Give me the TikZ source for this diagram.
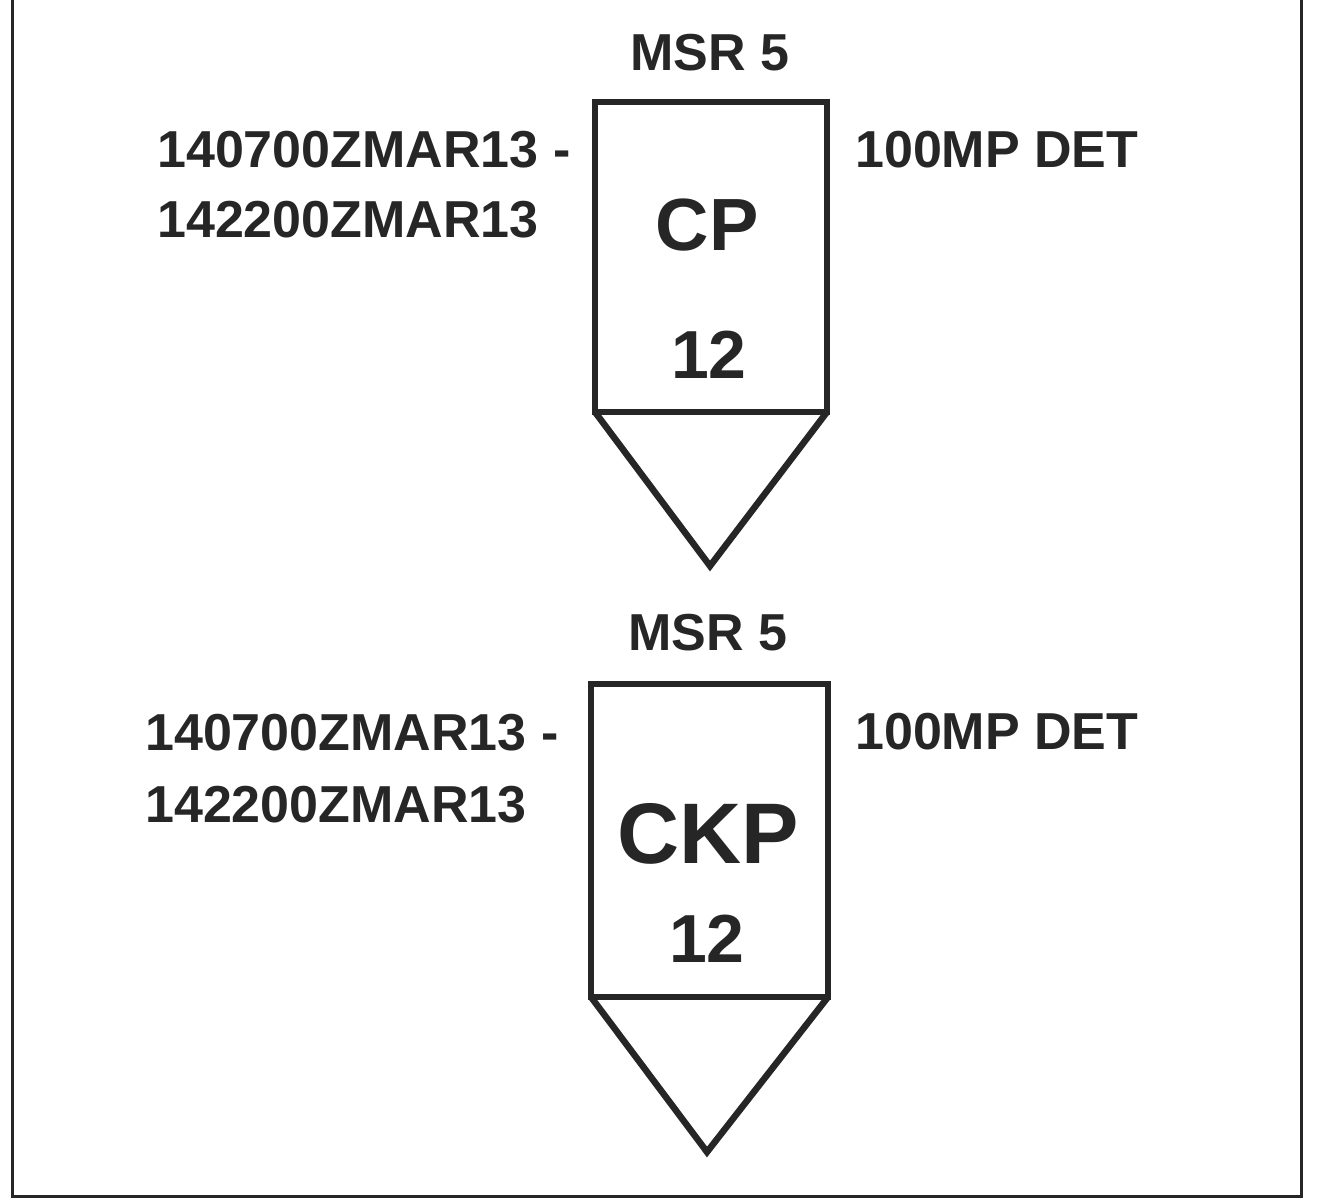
\documentclass[tikz,border=0pt]{standalone}
\usepackage{fontspec}
\setmainfont{Liberation Sans}
\usepackage{tikz}

\begin{document}
\begin{tikzpicture}[x=1pt, y=-1pt,
		lbl/.style={font=\fontsize{52}{60}\selectfont\bfseries, text=black!85, inner sep=0pt},
		big/.style={font=\fontsize{#1}{#1}\selectfont\bfseries, text=black!85, inner sep=0pt},
		symbox/.style={draw=black!85, line width=6.5pt, outer sep=0pt, inner sep=0pt},
		symline/.style={draw=black!85, line width=6.5pt, line join=miter}]
			\useasboundingbox (0, 0) rectangle (1327, 1200);
			\draw[black!85, line width=3pt] (12, -5) -- (12, 1196) -- (1301, 1196) -- (1301, -5);
			
			% upper symbol
			\node[symbox, minimum width=232pt, minimum height=310pt] (cpbox) at (711, 257) {};
			\coordinate (cptip) at (710, 566);
			\draw[symline] (cpbox.south west) -- (cptip) -- (cpbox.south east);
			\node[lbl, anchor=base] (cpunit) at (710, 70) {MSR 5};
			\node[big=74, anchor=base] (cptype) at (707, 250) {CP};
			\node[big=68, anchor=base] (cpnum) at (709, 378) {12};
			\node[lbl, anchor=base west] (cptime1) at (157, 167) {140700ZMAR13 -};
			\node[lbl, anchor=base west] (cptime2) at (157, 237) {142200ZMAR13};
			\node[lbl, anchor=base west] (cpdet) at (855, 167) {100MP DET};
			
			% lower symbol
			\node[symbox, minimum width=237pt, minimum height=313pt] (ckpbox) at (709.5, 840.5) {};
			\coordinate (ckptip) at (707, 1152);
			\draw[symline] (ckpbox.south west) -- (ckptip) -- (ckpbox.south east);
			\node[lbl, anchor=base] (ckpunit) at (708, 650) {MSR 5};
			\node[big=86, anchor=base] (ckptype) at (708, 863) {CKP};
			\node[big=68, anchor=base] (ckpnum) at (707, 962) {12};
			\node[lbl, anchor=base west] (ckptime1) at (145, 750) {140700ZMAR13 -};
			\node[lbl, anchor=base west] (ckptime2) at (145, 822) {142200ZMAR13};
			\node[lbl, anchor=base west] (ckpdet) at (855, 749) {100MP DET};
		\end{tikzpicture}
\end{document}
